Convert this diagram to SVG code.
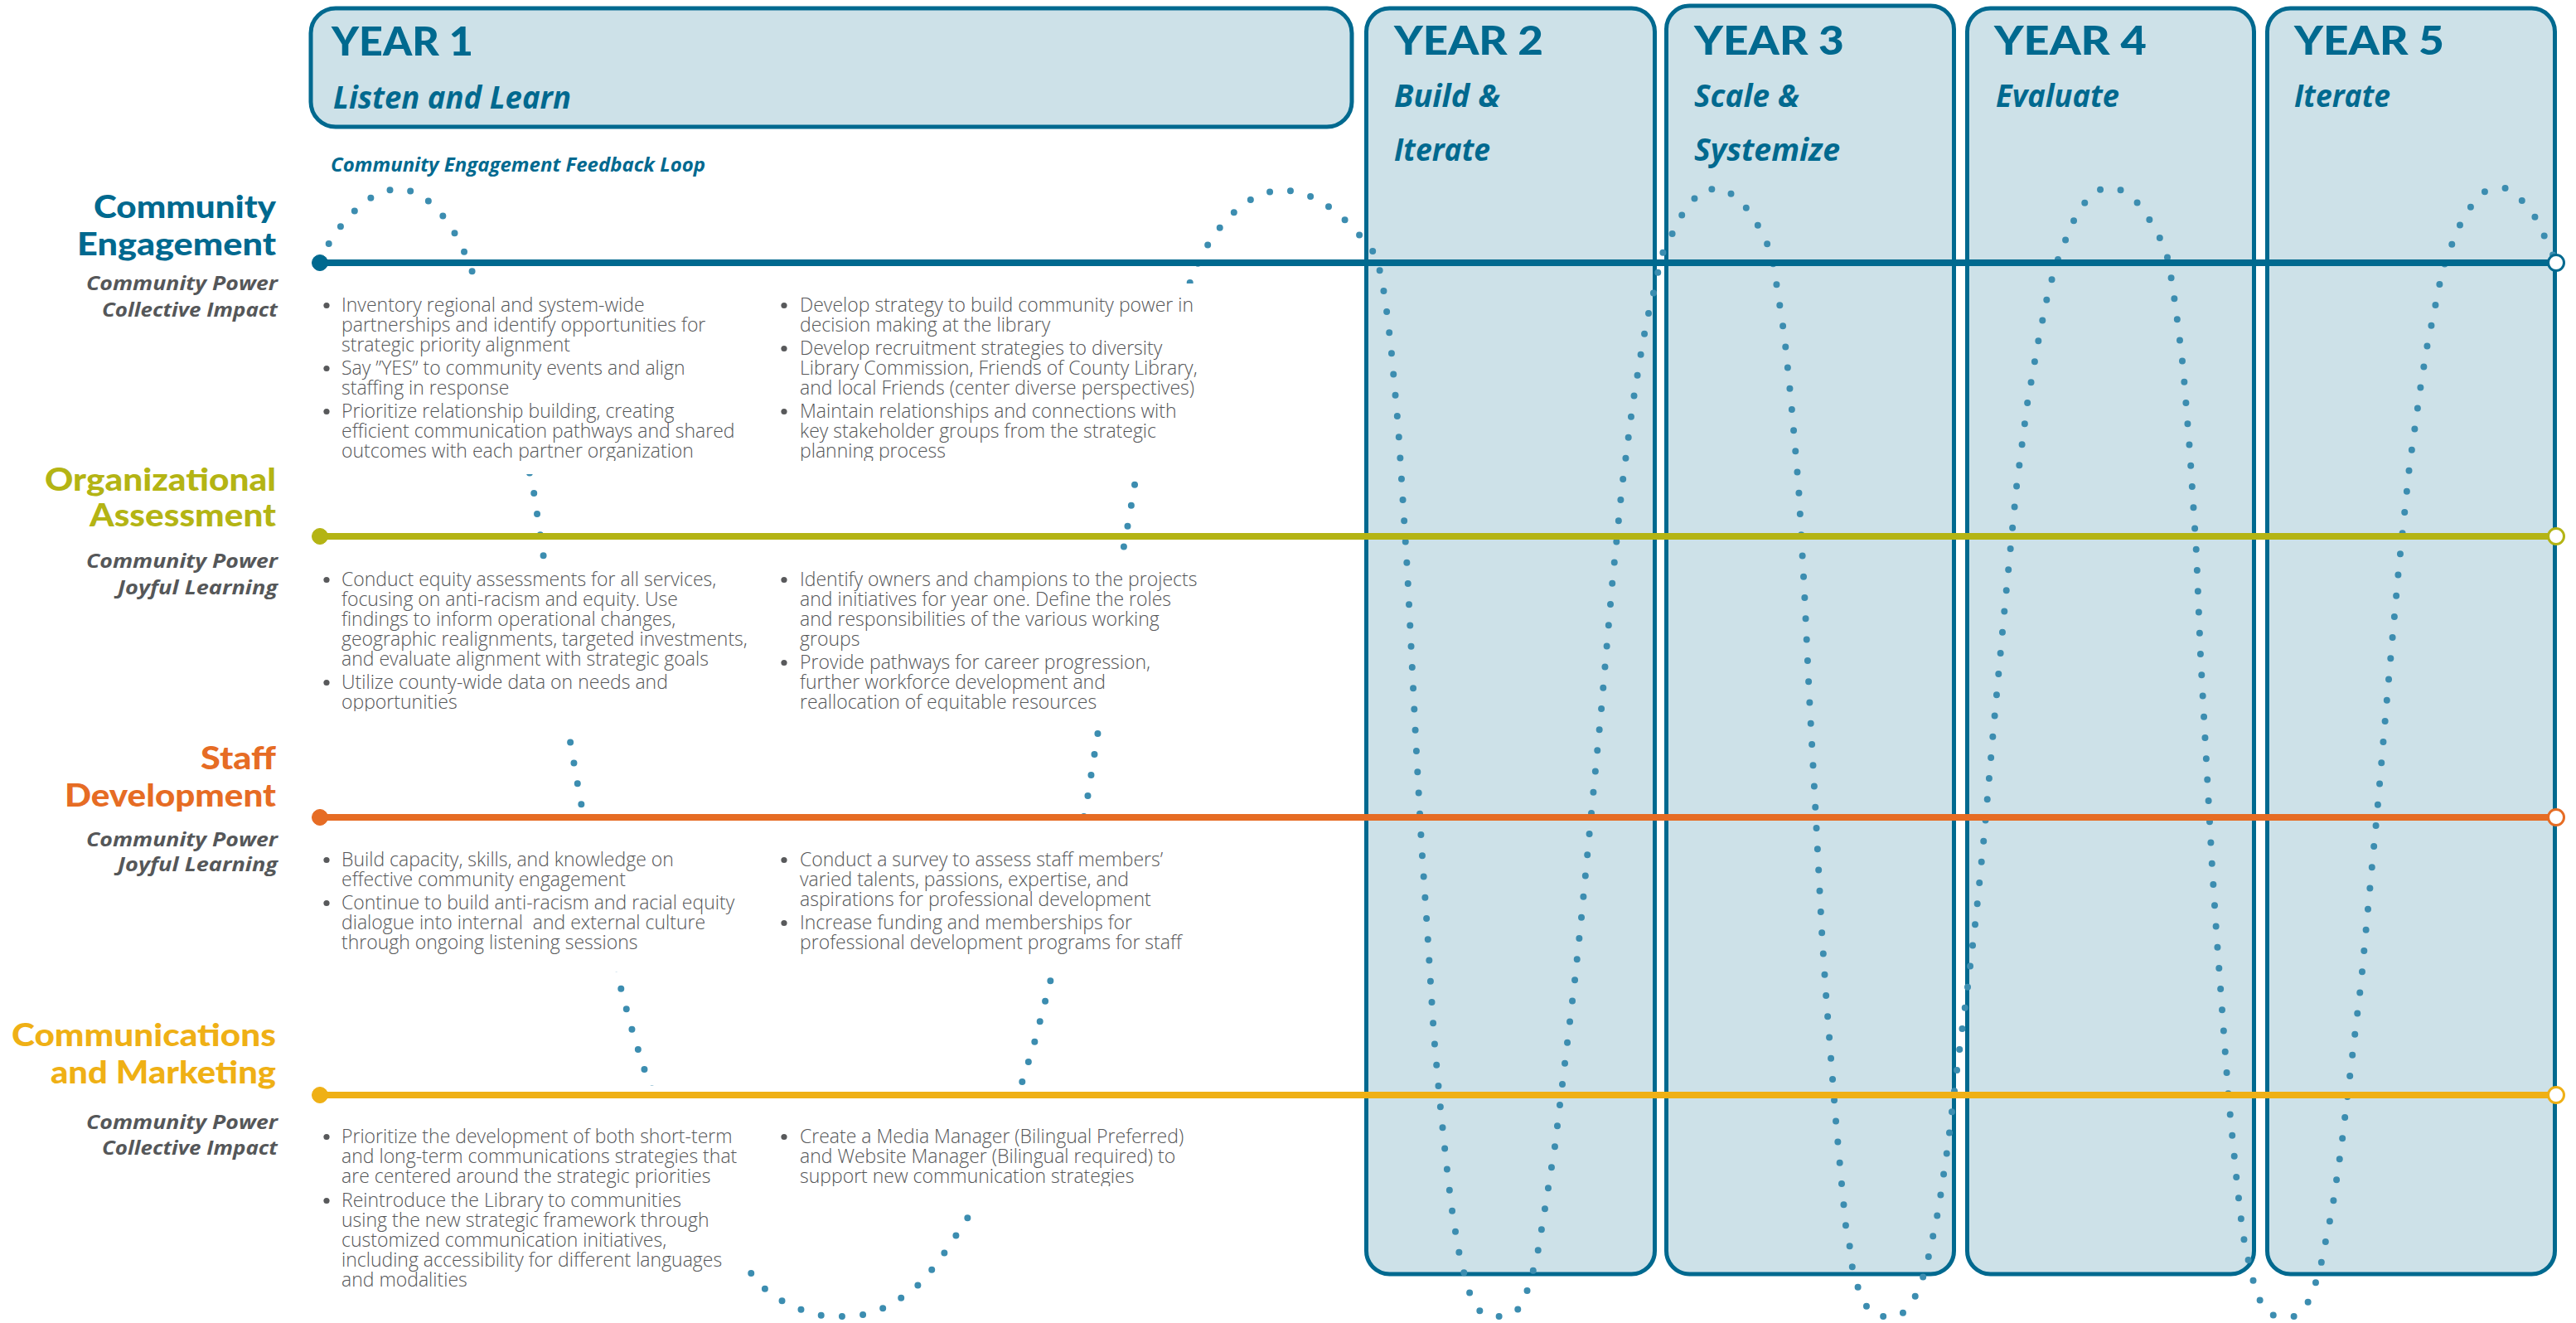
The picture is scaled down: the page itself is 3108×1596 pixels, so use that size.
<svg xmlns="http://www.w3.org/2000/svg" width="3108" height="1596" viewBox="0 0 3108 1596">
  <defs>
    <style>
      .box{fill:#cde1e8;stroke:#00698f;stroke-width:5}
      .yr{font-family:Lato,"Liberation Sans",sans-serif;font-weight:900;font-size:47px;fill:#00698f}
      .ph{font-family:"Open Sans","Liberation Sans",sans-serif;font-style:italic;font-weight:700;font-size:37px;fill:#00698f}
      .lbl{font-family:Lato,"Liberation Sans",sans-serif;font-weight:900;font-size:37px;text-anchor:end}
      .sub{font-family:"Open Sans","Liberation Sans",sans-serif;font-style:italic;font-weight:700;font-size:24px;fill:#555759;text-anchor:end}
      .body{font-family:"Open Sans","Liberation Sans",sans-serif;font-weight:300;font-size:23px;fill:#555658}
      .bul{fill:#58595b}
      .loop{fill:none;stroke:#3c8db0;stroke-width:8;stroke-linecap:round;stroke-linejoin:round;stroke-dasharray:0 25.3}
      .track{fill:none;stroke-width:8}
      .end{fill:#fff;stroke-width:3}
      .ce{fill:#00698f;stroke:#00698f}
      .oa{fill:#b4b414;stroke:#b4b414}
      .sd{fill:#e66c24;stroke:#e66c24}
      .cm{fill:#efb015;stroke:#efb015}
    </style>
    <!-- the feedback loop is hidden behind the year-one text panels -->
    <mask id="loop-gaps" maskUnits="userSpaceOnUse" x="0" y="0" width="3108" height="1596">
      <rect width="3108" height="1596" fill="#fff"/>
      <g fill="#000">
        <rect x="380" y="342" width="555" height="230"/>
        <rect x="938" y="342" width="552" height="230"/>
        <rect x="380" y="678" width="1110" height="198"/>
        <rect x="380" y="984" width="1110" height="188"/>
        <rect x="380" y="1310" width="555" height="221"/>
        <rect x="938" y="1310" width="552" height="141"/>
      </g>
    </mask>
    <clipPath id="clip-ce"><rect x="300" y="330" width="1300" height="226"/></clipPath>
    <clipPath id="clip-oa"><rect x="300" y="660" width="1300" height="198"/></clipPath>
    <clipPath id="clip-cm2"><rect x="930" y="1340" width="600" height="91"/></clipPath>
  </defs>

  <rect width="3108" height="1596" fill="#fff"/>

  <!-- year columns -->
  <g id="year-1">
    <rect class="box" x="375" y="10" width="1256" height="143" rx="30"/>
    <text class="yr" x="400" y="67" textLength="171" lengthAdjust="spacingAndGlyphs">YEAR 1</text>
    <text class="ph" x="402" y="131" textLength="287" lengthAdjust="spacingAndGlyphs">Listen and Learn</text>
  </g>
  <g id="year-2">
    <rect class="box" x="1648.5" y="10" width="348" height="1527" rx="28"/>
    <text class="yr" x="1682" y="66" textLength="180" lengthAdjust="spacingAndGlyphs">YEAR 2</text>
    <text class="ph" x="1682" y="129" textLength="128" lengthAdjust="spacingAndGlyphs">Build &amp;</text>
    <text class="ph" x="1682" y="194" textLength="116" lengthAdjust="spacingAndGlyphs">Iterate</text>
  </g>
  <g id="year-3">
    <rect class="box" x="2010.5" y="7" width="347" height="1530" rx="28"/>
    <text class="yr" x="2044" y="66" textLength="181" lengthAdjust="spacingAndGlyphs">YEAR 3</text>
    <text class="ph" x="2044" y="129" textLength="127" lengthAdjust="spacingAndGlyphs">Scale &amp;</text>
    <text class="ph" x="2044" y="194" textLength="176" lengthAdjust="spacingAndGlyphs">Systemize</text>
  </g>
  <g id="year-4">
    <rect class="box" x="2373.5" y="10" width="346" height="1527" rx="28"/>
    <text class="yr" x="2406" y="66" textLength="184" lengthAdjust="spacingAndGlyphs">YEAR 4</text>
    <text class="ph" x="2408" y="129" textLength="149" lengthAdjust="spacingAndGlyphs">Evaluate</text>
  </g>
  <g id="year-5">
    <rect class="box" x="2735.5" y="10" width="347" height="1527" rx="28"/>
    <text class="yr" x="2768" y="66" textLength="181" lengthAdjust="spacingAndGlyphs">YEAR 5</text>
    <text class="ph" x="2768" y="129" textLength="116" lengthAdjust="spacingAndGlyphs">Iterate</text>
  </g>

  <g id="loop-title">
    <text x="399" y="207" textLength="452" lengthAdjust="spacingAndGlyphs" style="font-family:'Open Sans','Liberation Sans',sans-serif;font-style:italic;font-weight:700;font-size:24px;fill:#00698f">Community Engagement Feedback Loop</text>
  </g>

  <!-- feedback loop and the four priority tracks -->
  <g id="connectors">
    <path class="loop" mask="url(#loop-gaps)" d="M386 317 L400 287 416 267 434 248 454 234 478 227 503 232 523 247 539 266 552 287 562 308 573 336 612 460 643 587 655 666 671 778 687 889 700 964 724 1076 748 1188 761 1237 776 1286 784 1308 840 1430 904 1533 918 1551 939 1567 961 1578 985 1586 1001 1588 1027 1588 1041 1586 1066 1578 1087 1566 1107 1551 1124 1532 1139 1512 1153 1491 1167 1470 1177 1450 1233 1306 1248 1258 1267 1185 1290 1075 1312 963 1324 888 1340 780 1354 670 1363 621 1371 573 1397 460 1439 331 1450 308 1462 287 1478 267 1496 249 1517 236 1541 229 1566 231 1589 240 1610 254 1629 271 1645 289 1661 309 1668 342 1672 367 1678 416 1687 515 1698 689 1708 889 1715 1018 1722 1121 1730 1249 1737 1327 1745 1403 1751 1454 1759 1505 1765 1530 1771 1555 1782 1579 1796 1588 1819 1588 1832 1579 1843 1556 1850 1532 1856 1507 1864 1458 1876 1383 1888 1283 1900 1183 1908 1107 1920 981 1932 856 1945 706 1957 587 1970 487 1982 413 1987 388 1992 363 1999 340 2002 313 2013 292 2024 268 2037 247 2055 229 2079 227 2099 241 2115 261 2127 283 2137 305 2141 328 2145 353 2153 406 2161 484 2170 587 2177 713 2183 841 2190 969 2198 1123 2203 1199 2209 1276 2215 1352 2222 1428 2227 1479 2232 1505 2235 1530 2242 1554 2253 1578 2265 1588 2291 1588 2303 1578 2315 1556 2323 1532 2329 1507 2339 1458 2350 1383 2362 1283 2375 1183 2384 1107 2394 1007 2405 881 2419 730 2433 587 2446 487 2459 413 2464 388 2469 363 2475 339 2483 313 2491 292 2501 268 2513 247 2531 229 2555 227 2576 241 2591 261 2604 283 2614 305 2621 343 2628 394 2634 444 2642 543 2650 667 2655 791 2662 918 2669 1046 2674 1123 2689 1327 2699 1428 2705 1480 2709 1505 2715 1530 2721 1555 2731 1579 2745 1588 2768 1588 2781 1579 2791 1556 2799 1532 2804 1507 2814 1458 2825 1383 2837 1283 2849 1183 2856 1107 2868 981 2881 831 2894 687 2907 563 2921 463 2929 414 2934 390 2944 340 2951 313 2959 293 2969 269 2982 248 2999 230 3023 227 3042 241 3058 261 3069 283 3079 305 3084 317"/>
    <g class="ce">
      <line class="track" x1="386" y1="317" x2="3075" y2="317"/>
      <circle cx="386" cy="317" r="9.5"/>
      <circle class="end" cx="3084" cy="317" r="9.5"/>
    </g>
    <g class="oa">
      <line class="track" x1="386" y1="647" x2="3075" y2="647"/>
      <circle cx="386" cy="647" r="9.5"/>
      <circle class="end" cx="3084" cy="647" r="9.5"/>
    </g>
    <g class="sd">
      <line class="track" x1="386" y1="986" x2="3075" y2="986"/>
      <circle cx="386" cy="986" r="9.5"/>
      <circle class="end" cx="3084" cy="986" r="9.5"/>
    </g>
    <g class="cm">
      <line class="track" x1="386" y1="1321" x2="3075" y2="1321"/>
      <circle cx="386" cy="1321" r="9.5"/>
      <circle class="end" cx="3084" cy="1321" r="9.5"/>
    </g>
  </g>

  <!-- Community Engagement -->
  <g id="community-engagement">
    <text class="lbl" x="333" y="263" fill="#00698f" textLength="220" lengthAdjust="spacingAndGlyphs">Community</text>
    <text class="lbl" x="333" y="308" fill="#00698f" textLength="240" lengthAdjust="spacingAndGlyphs">Engagement</text>
    <text class="sub" x="335" y="350" textLength="231" lengthAdjust="spacingAndGlyphs">Community Power</text>
    <text class="sub" x="335" y="382" textLength="212" lengthAdjust="spacingAndGlyphs">Collective Impact</text>
    <g clip-path="url(#clip-ce)">
      <g class="bul">
        <circle cx="394" cy="368.5" r="3.6"/><circle cx="394" cy="444.5" r="3.6"/><circle cx="394" cy="496.5" r="3.6"/>
        <circle cx="946" cy="368.5" r="3.6"/><circle cx="946" cy="420.5" r="3.6"/><circle cx="946" cy="496.5" r="3.6"/>
      </g>
      <g class="body" transform="translate(412 0)">
        <text y="376">Inventory regional and system-wide</text>
        <text y="400">partnerships and identify opportunities for</text>
        <text y="424">strategic priority alignment</text>
        <text y="452">Say ”YES” to community events and align</text>
        <text y="476">staffing in response</text>
        <text y="504">Prioritize relationship building, creating</text>
        <text y="528">efficient communication pathways and shared</text>
        <text y="552">outcomes with each partner organization</text>
      </g>
      <g class="body" transform="translate(965 0)">
        <text y="376">Develop strategy to build community power in</text>
        <text y="400">decision making at the library</text>
        <text y="428">Develop recruitment strategies to diversity</text>
        <text y="452">Library Commission, Friends of County Library,</text>
        <text y="476">and local Friends (center diverse perspectives)</text>
        <text y="504">Maintain relationships and connections with</text>
        <text y="528">key stakeholder groups from the strategic</text>
        <text y="552">planning process</text>
      </g>
    </g>
  </g>

  <!-- Organizational Assessment -->
  <g id="organizational-assessment">
    <text class="lbl" x="333" y="592" fill="#b4b414" textLength="279" lengthAdjust="spacingAndGlyphs">Organizational</text>
    <text class="lbl" x="333" y="635" fill="#b4b414" textLength="225" lengthAdjust="spacingAndGlyphs">Assessment</text>
    <text class="sub" x="335" y="685" textLength="231" lengthAdjust="spacingAndGlyphs">Community Power</text>
    <text class="sub" x="335" y="717" textLength="193" lengthAdjust="spacingAndGlyphs">Joyful Learning</text>
    <g clip-path="url(#clip-oa)">
      <g class="bul">
        <circle cx="394" cy="699.5" r="3.6"/><circle cx="394" cy="823.5" r="3.6"/>
        <circle cx="946" cy="699.5" r="3.6"/><circle cx="946" cy="799.5" r="3.6"/>
      </g>
      <g class="body" transform="translate(412 0)">
        <text y="707">Conduct equity assessments for all services,</text>
        <text y="731">focusing on anti-racism and equity. Use</text>
        <text y="755">findings to inform operational changes,</text>
        <text y="779">geographic realignments, targeted investments,</text>
        <text y="803">and evaluate alignment with strategic goals</text>
        <text y="831">Utilize county-wide data on needs and</text>
        <text y="855">opportunities</text>
      </g>
      <g class="body" transform="translate(965 0)">
        <text y="707">Identify owners and champions to the projects</text>
        <text y="731">and initiatives for year one. Define the roles</text>
        <text y="755">and responsibilities of the various working</text>
        <text y="779">groups</text>
        <text y="807">Provide pathways for career progression,</text>
        <text y="831">further workforce development and</text>
        <text y="855">reallocation of equitable resources</text>
      </g>
    </g>
  </g>

  <!-- Staff Development -->
  <g id="staff-development">
    <text class="lbl" x="333" y="928" fill="#e66c24" textLength="91" lengthAdjust="spacingAndGlyphs">Staff</text>
    <text class="lbl" x="333" y="973" fill="#e66c24" textLength="255" lengthAdjust="spacingAndGlyphs">Development</text>
    <text class="sub" x="335" y="1021" textLength="231" lengthAdjust="spacingAndGlyphs">Community Power</text>
    <text class="sub" x="335" y="1051" textLength="193" lengthAdjust="spacingAndGlyphs">Joyful Learning</text>
    <g class="bul">
      <circle cx="394" cy="1037.5" r="3.6"/><circle cx="394" cy="1089.5" r="3.6"/>
      <circle cx="946" cy="1037.5" r="3.6"/><circle cx="946" cy="1113.5" r="3.6"/>
    </g>
    <g class="body" transform="translate(412 0)">
      <text y="1045">Build capacity, skills, and knowledge on</text>
      <text y="1069">effective community engagement</text>
      <text y="1097">Continue to build anti-racism and racial equity</text>
      <text y="1121">dialogue into internal&#160; and external culture</text>
      <text y="1145">through ongoing listening sessions</text>
    </g>
    <g class="body" transform="translate(965 0)">
      <text y="1045">Conduct a survey to assess staff members’</text>
      <text y="1069">varied talents, passions, expertise, and</text>
      <text y="1093">aspirations for professional development</text>
      <text y="1121">Increase funding and memberships for</text>
      <text y="1145">professional development programs for staff</text>
    </g>
  </g>

  <!-- Communications and Marketing -->
  <g id="communications-marketing">
    <text class="lbl" x="333" y="1262" fill="#efb015" textLength="319" lengthAdjust="spacingAndGlyphs">Communications</text>
    <text class="lbl" x="333" y="1307" fill="#efb015" textLength="272" lengthAdjust="spacingAndGlyphs">and Marketing</text>
    <text class="sub" x="335" y="1362" textLength="231" lengthAdjust="spacingAndGlyphs">Community Power</text>
    <text class="sub" x="335" y="1393" textLength="212" lengthAdjust="spacingAndGlyphs">Collective Impact</text>
    <g class="bul">
      <circle cx="394" cy="1371.5" r="3.6"/><circle cx="394" cy="1448.5" r="3.6"/>
      <circle cx="946" cy="1371.5" r="3.6"/>
    </g>
    <g class="body" transform="translate(412 0)">
      <text y="1379">Prioritize the development of both short-term</text>
      <text y="1403">and long-term communications strategies that</text>
      <text y="1427">are centered around the strategic priorities</text>
      <text y="1456">Reintroduce the Library to communities</text>
      <text y="1480">using the new strategic framework through</text>
      <text y="1504">customized communication initiatives,</text>
      <text y="1528">including accessibility for different languages</text>
      <text y="1552">and modalities</text>
    </g>
    <g clip-path="url(#clip-cm2)">
      <g class="body" transform="translate(965 0)">
        <text y="1379">Create a Media Manager (Bilingual Preferred)</text>
        <text y="1403">and Website Manager (Bilingual required) to</text>
        <text y="1427">support new communication strategies</text>
      </g>
    </g>
  </g>
</svg>
